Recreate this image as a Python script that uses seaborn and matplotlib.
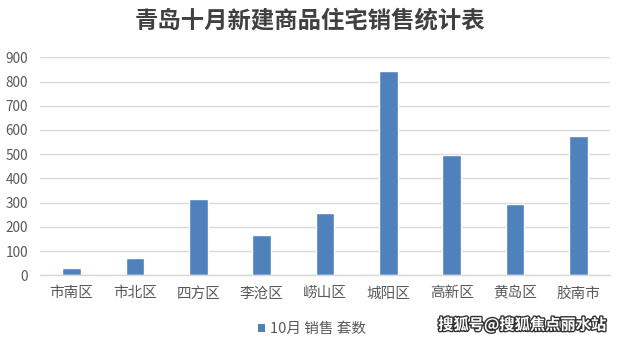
import matplotlib
matplotlib.use("Agg")
import matplotlib.pyplot as plt
import matplotlib.patheffects as pe
import seaborn as sns
import pandas as pd

categories = ["市南区", "市北区", "四方区", "李沧区", "崂山区", "城阳区", "高新区", "黄岛区", "胶南市"]
sales = [29, 71, 315, 166, 257, 843, 497, 294, 575]
series_name = "10月 销售 套数"
yticks = [0, 100, 200, 300, 400, 500, 600, 700, 800, 900]

sns.set_theme(style="white")
plt.rcParams['font.family'] = ['Noto Sans CJK SC', 'DejaVu Sans']

df = pd.DataFrame({"区域": categories, "套数": sales, "系列": series_name})

fig = plt.figure(figsize=(6.2, 3.41), dpi=100)
ax = fig.add_axes([40/620, 1-275.3/341, 570/620, 218/341])

sns.barplot(data=df, x="区域", y="套数", hue="系列", palette=["#4f81bd"],
            width=0.29, ax=ax, saturation=1, legend=False)

ax.set_ylim(0, 900)
ax.set_xlim(-0.5, len(categories)-0.5)
ax.set_yticks(yticks)
ax.set_yticklabels([str(v) for v in yticks])
ax.yaxis.grid(True, color="#d9d9d9", linewidth=1)
ax.set_axisbelow(True)
for s in ["top", "right", "left"]:
    ax.spines[s].set_visible(False)
ax.spines["bottom"].set_color("#d9d9d9")
ax.spines["bottom"].set_linewidth(1)
ax.tick_params(axis="y", length=0, labelsize=9.8, labelcolor="#595959", pad=8.5)
ax.tick_params(axis="x", length=0, labelsize=10.5, labelcolor="#595959", pad=8)
ax.set_xlabel("")
ax.set_ylabel("")

handle = plt.Rectangle((0, 0), 1, 1, facecolor="#4f81bd", edgecolor="none")
leg = ax.legend([handle], [series_name], loc="center", bbox_to_anchor=(312/620, 1-329/341),
                bbox_transform=fig.transFigure, frameon=False, fontsize=10.5,
                handlelength=0.5, handleheight=0.5, handletextpad=0.3)
for t in leg.get_texts():
    t.set_color("#595959")

fig.text(0.5, 1-20/341, "青岛十月新建商品住宅销售统计表", ha="center", va="center",
         fontsize=16.8, fontweight="bold", color="#404040")

fig.text(606/620, 1-325/341, "搜狐号@搜狐焦点丽水站", ha="right", va="center",
         fontsize=11, fontweight="bold", color="white",
         path_effects=[pe.withStroke(linewidth=2, foreground="#333333")])

fig.savefig("out.png", dpi=100)
